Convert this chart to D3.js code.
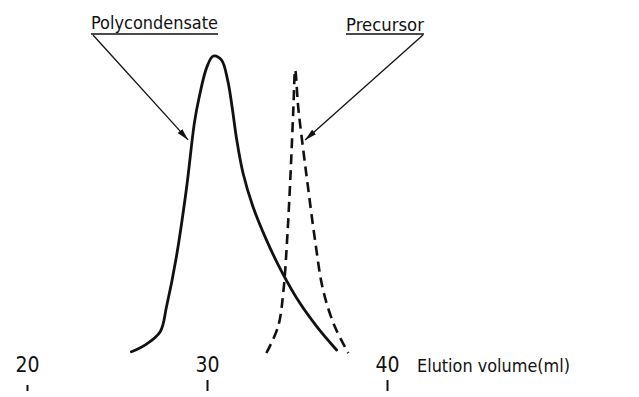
<!DOCTYPE html>
<html>
<head>
<meta charset="utf-8">
<script src="https://cdn.jsdelivr.net/npm/d3@7"></script>
<style>
  body { margin: 0; background: #fff; }
  svg { display: block; }
  text { font-family: "DejaVu Sans Condensed", "DejaVu Sans", sans-serif; fill: #111; }
</style>
</head>
<body>
<script>
// elution volume (ml) vs. relative detector response
const polyVolume = [25.8, 26.55, 27.4, 27.75, 28.3, 28.85, 29.3, 29.55, 30.0, 30.35, 30.8, 31.15, 31.4, 31.65, 32.0, 32.55, 33.3, 34.2, 35.15, 36.1, 37.2];
const polyResponse = [2.7, 4.9, 9.3, 17.5, 34, 56, 78, 86, 96.5, 100, 98.7, 92, 83, 72.5, 61.5, 50.5, 39.5, 28.5, 18.8, 11, 3.3];

const precVolume = [33.3, 33.95, 34.25, 34.45, 34.6, 34.7, 34.8, 34.9, 35.07, 35.35, 35.63, 36.0, 36.45, 37.1, 37.85];
const precResponse = [2.3, 11, 23, 39.5, 56, 69, 83, 95.5, 83, 69, 56, 39.5, 23, 11, 2.3];

const tickValues = [20, 30, 40];
const axisTitle = "Elution volume(ml)";
const labels = ["Polycondensate", "Precursor"];
// where each arrow ends, in data units (volume, response)
const arrowVolume = [28.95, 35.45];
const arrowResponse = [72.4, 72.4];

const width = 639, height = 397;

const svg = d3.select('body')
    .append('svg')
    .attr('width', width)
    .attr('height', height);

const x = d3.scaleLinear().domain([20, 40]).range([27, 387]);
const y = d3.scaleLinear().domain([0, 100]).range([360, 56]);

svg.append('defs')
    .append('marker')
    .attr('id', 'head')
    .attr('viewBox', '0 0 12 6')
    .attr('refX', 12)
    .attr('refY', 3)
    .attr('markerWidth', 12)
    .attr('markerHeight', 6)
    .attr('markerUnits', 'userSpaceOnUse')
    .attr('orient', 'auto')
    .append('path')
    .attr('d', 'M0,0 L12,3 L0,6 Z')
    .attr('fill', '#111');

const line = d3.line()
    .x(d => x(d[0]))
    .y(d => y(d[1]))
    .curve(d3.curveCatmullRom.alpha(0.5));

svg.append('path')
    .datum(d3.zip(polyVolume, polyResponse))
    .attr('fill', 'none')
    .attr('stroke', '#111')
    .attr('stroke-width', 2.8)
    .attr('stroke-linecap', 'round')
    .attr('d', line);

svg.append('path')
    .datum(d3.zip(precVolume, precResponse))
    .attr('fill', 'none')
    .attr('stroke', '#111')
    .attr('stroke-width', 2.6)
    .attr('stroke-dasharray', '10,6')
    .attr('d', line);

// axis: no base line, labels above short ticks
const axis = svg.append('g')
    .attr('transform', 'translate(0,380)')
    .call(d3.axisTop(x).tickValues(tickValues).tickSizeInner(-11).tickSizeOuter(0).tickPadding(8));
axis.select('.domain').remove();
axis.selectAll('.tick line').attr('stroke', '#111').attr('stroke-width', 2);
// the first tick is only a short stub in the original
axis.selectAll('.tick line').filter(d => d === 20).attr('y1', 5);
axis.selectAll('.tick text')
    .attr('font-size', 21)
    .attr('font-family', '"DejaVu Sans Condensed", sans-serif')
    .attr('fill', '#111');

svg.append('text')
    .attr('x', 417)
    .attr('y', 372)
    .attr('font-size', 18)
    .attr('textLength', 153)
    .attr('lengthAdjust', 'spacingAndGlyphs')
    .text(axisTitle);

// labelled arrows
const notes = [
    { text: labels[0], tx: 91, ty: 29, w: 127, fromLeft: true },
    { text: labels[1], tx: 346, ty: 31, w: 78, fromLeft: false }
];

notes.forEach((n, i) => {
    svg.append('text')
        .attr('x', n.tx)
        .attr('y', n.ty)
        .attr('font-size', 17)
        .attr('textLength', n.w)
        .attr('lengthAdjust', 'spacingAndGlyphs')
        .text(n.text);

    const uy = 34;
    svg.append('line')
        .attr('x1', n.tx).attr('x2', n.tx + n.w)
        .attr('y1', uy).attr('y2', uy)
        .attr('stroke', '#111').attr('stroke-width', 1.6);

    const sx = n.fromLeft ? n.tx + 2 : n.tx + n.w - 1;
    svg.append('line')
        .attr('x1', sx).attr('y1', uy + 1)
        .attr('x2', x(arrowVolume[i])).attr('y2', y(arrowResponse[i]))
        .attr('stroke', '#111').attr('stroke-width', 1.3)
        .attr('marker-end', 'url(#head)');
});
</script>
</body>
</html>
